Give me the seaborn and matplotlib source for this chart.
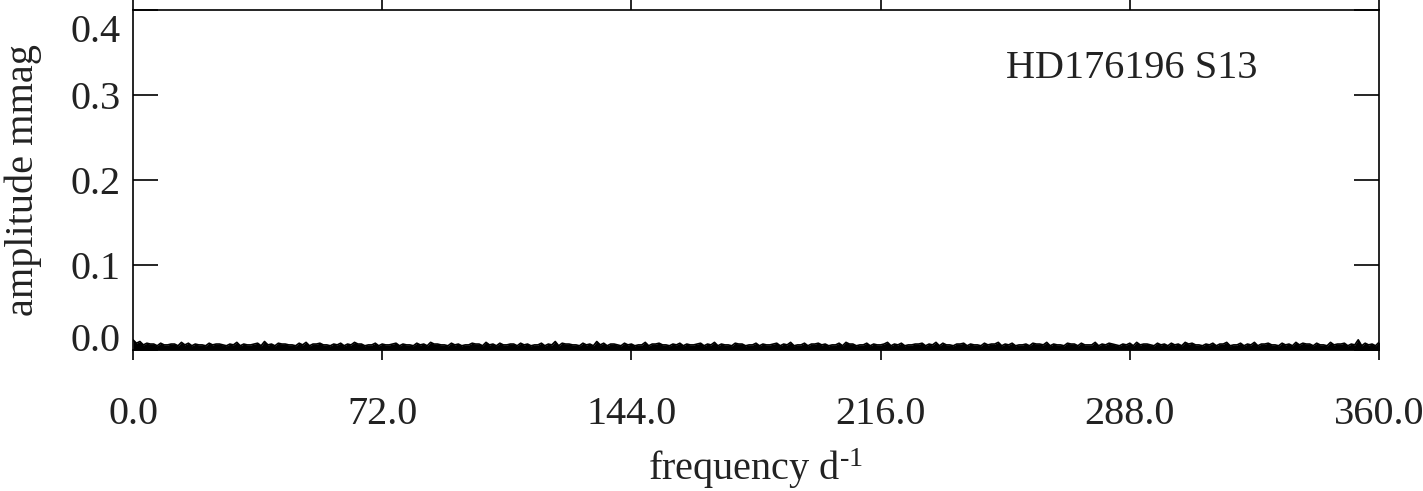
import numpy as np
import pandas as pd
import matplotlib
matplotlib.use("Agg")
import matplotlib.pyplot as plt
import matplotlib.transforms as mtransforms
import seaborn as sns

# Espectro de amplitud (ruido), un valor por cada 1 d^-1
freq_step = 1.0
amp = [
    0.012, 0.008, 0.010, 0.006, 0.008, 0.007, 0.007, 0.005, 0.008, 0.006, 0.006, 0.007, 0.007, 0.005, 0.009, 0.006, 0.008, 0.005, 0.007,
    0.006, 0.006, 0.005, 0.008, 0.006, 0.007, 0.007, 0.006, 0.005, 0.007, 0.006, 0.009, 0.005, 0.007, 0.006, 0.006, 0.007, 0.008, 0.005, 0.010,
    0.006, 0.007, 0.005, 0.008, 0.007, 0.007, 0.006, 0.006, 0.005, 0.008, 0.006, 0.009, 0.005, 0.007, 0.007, 0.008, 0.006, 0.006, 0.005, 0.007,
    0.006, 0.008, 0.005, 0.007, 0.006, 0.009, 0.007, 0.007, 0.005, 0.006, 0.006, 0.008, 0.005, 0.007, 0.006, 0.006, 0.007, 0.008, 0.005, 0.007,
    0.006, 0.006, 0.005, 0.008, 0.006, 0.007, 0.005, 0.009, 0.007, 0.007, 0.006, 0.006, 0.005, 0.008, 0.006, 0.007, 0.005, 0.006, 0.006, 0.008,
    0.007, 0.007, 0.005, 0.009, 0.006, 0.007, 0.005, 0.008, 0.006, 0.006, 0.007, 0.007, 0.005, 0.008, 0.006, 0.007, 0.005, 0.006, 0.006, 0.008,
    0.005, 0.007, 0.006, 0.010, 0.005, 0.008, 0.007, 0.007, 0.006, 0.006, 0.005, 0.008, 0.006, 0.007, 0.005, 0.010, 0.006, 0.008, 0.005, 0.007,
    0.007, 0.006, 0.005, 0.008, 0.006, 0.007, 0.005, 0.006, 0.006, 0.009, 0.005, 0.007, 0.007, 0.008, 0.006, 0.006, 0.005, 0.007, 0.006, 0.008,
    0.005, 0.007, 0.006, 0.006, 0.007, 0.008, 0.005, 0.007, 0.006, 0.009, 0.005, 0.007, 0.006, 0.006, 0.005, 0.008, 0.007, 0.007, 0.005, 0.006,
    0.006, 0.008, 0.005, 0.007, 0.006, 0.006, 0.007, 0.008, 0.005, 0.007, 0.006, 0.009, 0.005, 0.006, 0.006, 0.008, 0.005, 0.007, 0.007, 0.008,
    0.006, 0.007, 0.005, 0.006, 0.006, 0.008, 0.005, 0.009, 0.007, 0.007, 0.005, 0.006, 0.006, 0.008, 0.005, 0.007, 0.006, 0.006, 0.007, 0.009,
    0.005, 0.007, 0.006, 0.008, 0.005, 0.006, 0.006, 0.007, 0.007, 0.008, 0.005, 0.007, 0.006, 0.009, 0.005, 0.008, 0.006, 0.006, 0.005, 0.007,
    0.007, 0.008, 0.005, 0.007, 0.006, 0.006, 0.005, 0.008, 0.006, 0.007, 0.007, 0.009, 0.005, 0.007, 0.006, 0.008, 0.005, 0.006, 0.006, 0.007,
    0.005, 0.008, 0.007, 0.007, 0.006, 0.009, 0.005, 0.007, 0.006, 0.006, 0.005, 0.008, 0.007, 0.007, 0.005, 0.008, 0.006, 0.006, 0.006, 0.009,
    0.005, 0.007, 0.006, 0.008, 0.007, 0.006, 0.005, 0.007, 0.006, 0.008, 0.005, 0.009, 0.006, 0.007, 0.007, 0.006, 0.005, 0.008, 0.006, 0.007,
    0.005, 0.008, 0.006, 0.007, 0.005, 0.009, 0.007, 0.008, 0.006, 0.006, 0.005, 0.007, 0.006, 0.008, 0.005, 0.007, 0.007, 0.009, 0.005, 0.006,
    0.006, 0.008, 0.005, 0.007, 0.006, 0.009, 0.005, 0.007, 0.007, 0.008, 0.006, 0.006, 0.005, 0.008, 0.006, 0.007, 0.005, 0.009, 0.006, 0.008,
    0.007, 0.007, 0.005, 0.008, 0.006, 0.006, 0.005, 0.009, 0.006, 0.007, 0.007, 0.008, 0.005, 0.007, 0.006, 0.012, 0.005, 0.008, 0.006, 0.007,
    0.005, 0.009, 0.006, 0.007, 0.007, 0.008, 0.005, 0.006, 0.006, 0.008, 0.005, 0.007, 0.006, 0.008, 0.007, 0.007, 0.005, 0.008, 0.006,
]
freq = np.arange(len(amp)) * freq_step

xticks = [0.0, 72.0, 144.0, 216.0, 288.0, 360.0]
yticks = [0.0, 0.1, 0.2, 0.3, 0.4]
star_label = "HD176196 S13"

df = pd.DataFrame({"freq": freq, "amp": amp})

sns.set_theme(style="ticks")
plt.rcParams["font.family"] = ["Liberation Serif", "DejaVu Serif"]
plt.rcParams["mathtext.fontset"] = "custom"
plt.rcParams["mathtext.rm"] = "Liberation Serif"
plt.rcParams["mathtext.it"] = "Liberation Serif:italic"

fig = plt.figure(figsize=(14.23, 4.91), dpi=100)
ax = fig.add_axes([133 / 1423, 1 - 350 / 491, 1246 / 1423, 340 / 491])

# ruido denso: linea fina y relleno hasta cero
sns.lineplot(data=df, x="freq", y="amp", ax=ax, color="black", lw=1.2, estimator=None)
ax.fill_between(df["freq"], 0, df["amp"], color="black", lw=0)

ax.set_xlim(0, 360)
ax.set_ylim(0, 0.4)
ax.set_xticks(xticks)
ax.set_xticklabels([f"{t:.1f}" for t in xticks])
ax.set_yticks(yticks)
ax.set_yticklabels([f"{t:.1f}" for t in yticks])

txt_col = "#222222"
ax.tick_params(axis="x", direction="out", length=7, width=1.2, top=True, bottom=True,
               labelsize=29, pad=26, colors="black", labelcolor=txt_col)
ax.tick_params(axis="y", direction="in", length=18, width=1.2, left=True, right=True,
               labelsize=29, pad=9, colors="black", labelcolor=txt_col)
for s in ax.spines.values():
    s.set_linewidth(1.2)
    s.set_color("black")

# las etiquetas extremas del eje y van desplazadas hacia dentro
labs = ax.get_yticklabels()
labs[0].set_transform(labs[0].get_transform() + mtransforms.ScaledTranslation(0, 13 / 100, fig.dpi_scale_trans))
labs[-1].set_transform(labs[-1].get_transform() + mtransforms.ScaledTranslation(0, -18 / 100, fig.dpi_scale_trans))

ax.set_xlabel("frequency d$^{\\mathregular{\u20101}}$", fontsize=29, color=txt_col, labelpad=10)
ax.set_ylabel("amplitude mmag", fontsize=29, color=txt_col, labelpad=20)
ax.text(0.7006, 0.828, star_label, transform=ax.transAxes, fontsize=29, color=txt_col,
        ha="left", va="center")

fig.savefig("out.png", dpi=100)
